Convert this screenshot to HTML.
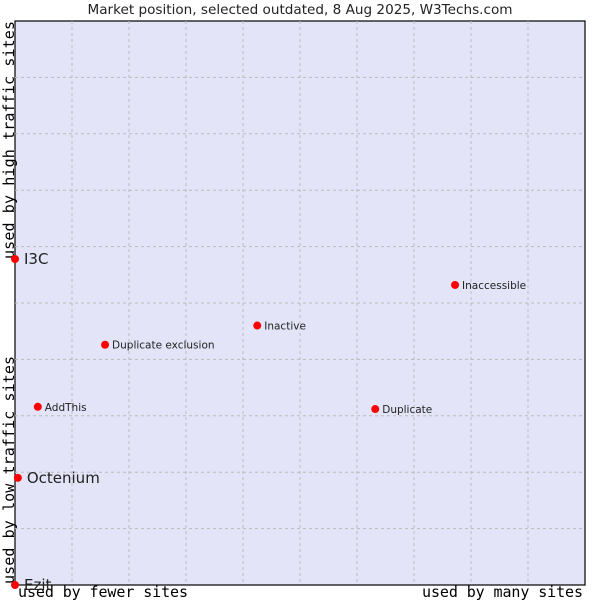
<!DOCTYPE html>
<html><head><meta charset="utf-8"><style>
body{margin:0;background:#fff}
svg text{font-family:"DejaVu Sans","Liberation Sans",sans-serif}
.mono{font-family:"DejaVu Sans Mono","Liberation Mono",monospace;font-size:15px}
</style></head><body>
<svg width="600" height="600" xmlns="http://www.w3.org/2000/svg">
<text x="300" y="14" text-anchor="middle" font-size="13.6" fill="#222" textLength="425">Market position, selected outdated, 8 Aug 2025, W3Techs.com</text>
<rect x="15" y="21" width="570" height="564" fill="#e3e4f8" stroke="#000" stroke-width="1.2"/>
<g id="grid"></g>
<text class="mono" transform="translate(14,140) rotate(-90)" text-anchor="middle" fill="#000" textLength="238">used by high traffic sites</text>
<text class="mono" transform="translate(14,470) rotate(-90)" text-anchor="middle" fill="#000" textLength="228">used by low traffic sites</text>
<text class="mono" x="18" y="597" fill="#000" textLength="170">used by fewer sites</text>
<text class="mono" x="422" y="597" fill="#000" textLength="161">used by many sites</text>
<g id="points"></g>
</svg>
<script>
const names=["I3C","Octenium","Ezit","AddThis","Duplicate exclusion","Inactive","Inaccessible","Duplicate"];
const xVals=[0,0.5,0,4.0,15.8,42.5,77.2,63.2];
const yVals=[57.8,19.0,0,31.6,42.6,46.0,53.2,31.2];
const big=[true,true,true,false,false,false,false,false];
const L=15,T=21,W=570,H=564;
const sx=v=>L+v/100*W, sy=v=>T+H-v/100*H;
const ns="http://www.w3.org/2000/svg";
const g=document.getElementById('grid');
for(let i=1;i<10;i++){
  const l=document.createElementNS(ns,'line');
  
  
  l.setAttribute('x1',sx(i*10));l.setAttribute('x2',sx(i*10));l.setAttribute('y1',T);l.setAttribute('y2',T+H);
  l.setAttribute('stroke','#bbb');l.setAttribute('stroke-dasharray','3,3');g.appendChild(l);
  const h=document.createElementNS(ns,'line');
  
  
  h.setAttribute('y1',sy(i*10));h.setAttribute('y2',sy(i*10));h.setAttribute('x1',L);h.setAttribute('x2',L+W);
  h.setAttribute('stroke','#bbb');h.setAttribute('stroke-dasharray','3,3');g.appendChild(h);
}
const p=document.getElementById('points');
names.forEach((n,i)=>{
  const x=sx(xVals[i]),y=sy(yVals[i]);
  const c=document.createElementNS(ns,'circle');
  
  
  c.setAttribute('cx',x);c.setAttribute('cy',y);c.setAttribute('r',4);c.setAttribute('fill','#f00');
  p.appendChild(c);
  const t=document.createElementNS(ns,'text');
  
  
  t.setAttribute('x',x+(big[i]?9:7));t.setAttribute('y',y+(big[i]?5:4));
  t.setAttribute('font-size',big[i]?15:10.5);t.setAttribute('fill','#222');
  t.textContent=n;p.appendChild(t);
});
</script>
</body></html>
